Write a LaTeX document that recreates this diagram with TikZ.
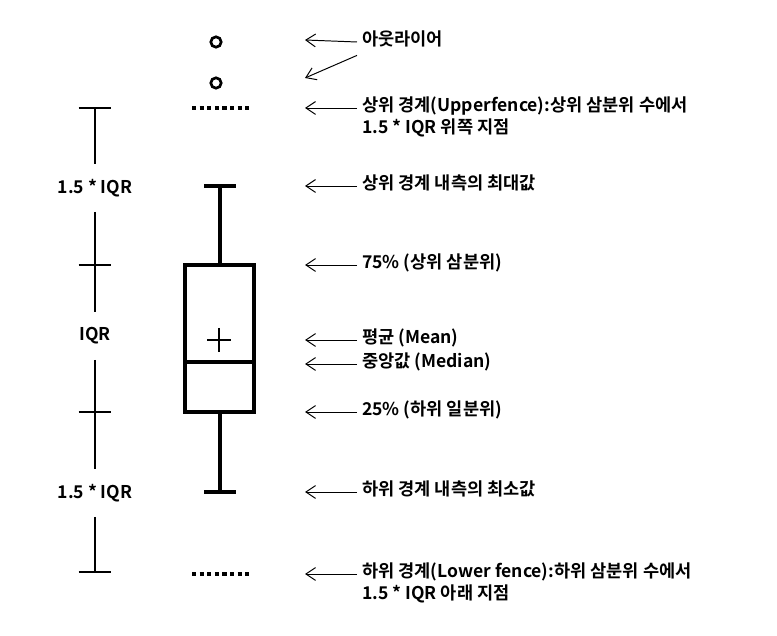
\documentclass[tikz,border=0pt]{standalone}
\usepackage{fontspec}
\setmainfont{Noto Sans CJK KR}[BoldFont={Noto Sans CJK KR Bold}]
\usetikzlibrary{arrows.meta,positioning}

\begin{document}
\begin{tikzpicture}[
    x=0.025cm, y=-0.025cm,
    every node/.style={font=\fontsize{12.5}{15}\selectfont\bfseries},
    note/.style={anchor=west, inner sep=3.5pt, text height=2.3mm, text depth=0.6mm},
    scaletxt/.style={inner sep=0pt, minimum height=1.18cm},
    scalebar/.style={line width=1.9pt},
    whisker/.style={line width=2.6pt},
    meanmark/.style={line width=1.8pt},
    fence/.style={line width=2.6pt, dash pattern=on 1.05mm off 0.85mm},
    outlier/.style={draw, circle, line width=1.9pt, minimum size=2.6mm, inner sep=0pt},
    pointer/.style={-{Straight Barb[length=2.4mm, width=3.2mm]}, line width=0.7pt}
]
\useasboundingbox (0,0) rectangle (777,636);

% left scale
\coordinate (sTop) at (95,108);
\node[scaletxt] (upIQR) at (95,188) {1.5 * IQR};
\coordinate (s75) at (95,265);
\node[scaletxt] (midIQR) at (95,336) {IQR};
\coordinate (s25) at (95,412);
\node[scaletxt] (lowIQR) at (95,493) {1.5 * IQR};
\coordinate (sBot) at (95,572);
\draw[scalebar] (sTop) -- (upIQR);
\draw[scalebar] (upIQR) -- (s75) -- (midIQR);
\draw[scalebar] (midIQR) -- (s25) -- (lowIQR);
\draw[scalebar] (lowIQR) -- (sBot);
\foreach \c in {sTop,s75,s25,sBot}
  \draw[scalebar] ([xshift=-4.1mm]\c) -- ([xshift=4.1mm]\c);

% box plot
\node[outlier] (out1) at (216,42) {};
\node[outlier] (out2) at (216,83) {};
\draw[fence] (192,108) -- (251,108);
\draw[whisker] (204,186) -- (236,186);
\draw[whisker] (220,186) -- (220,265);
\draw[whisker] (185,265) rectangle (254,412);
\draw[whisker] (185,362) -- (254,362);
\draw[meanmark] (207,340) -- (231,340) (219,328) -- (219,352);
\draw[whisker] (220,412) -- (220,492);
\draw[whisker] (204,492) -- (236,492);
\draw[fence] (192,574) -- (251,574);

% notes
\node[note] (nOut) at (357,42) {아웃라이어};
\node[note] (nUp) at (357,108) {상위 경계(Upperfence):상위 삼분위 수에서};
\node[note, below=0mm of nUp.south west, anchor=north west] (nUpB) {1.5 * IQR 위쪽 지점};
\node[note] (nMax) at (357,186) {상위 경계 내측의 최대값};
\node[note] (nQ3) at (357,265) {75\% (상위 삼분위)};
\node[note] (nMean) at (357,340) {평균 (Mean)};
\node[note] (nMed) at (357,364) {중앙값 (Median)};
\node[note] (nQ1) at (357,412) {25\% (하위 일분위)};
\node[note] (nMin) at (357,492) {하위 경계 내측의 최소값};
\node[note] (nLow) at (357,574) {하위 경계(Lower fence):하위 삼분위 수에서};
\node[note, below=0mm of nLow.south west, anchor=north west] (nLowB) {1.5 * IQR 아래 지점};

\coordinate (tOut1) at (305,40);
\coordinate (tOut2) at (305,78);
\foreach \n/\y in {nUp/108,nMax/186,nQ3/265,nMean/340,nMed/364,nQ1/412,nMin/492,nLow/574}
  \coordinate (t\n) at (305,\y);

\draw[pointer] (nOut.west) -- (tOut1);
\draw[pointer] ([yshift=-0.6mm]nOut.south west) -- (tOut2);
\foreach \n in {nUp,nMax,nQ3,nMean,nMed,nQ1,nMin,nLow}
  \draw[pointer] (\n.west) -- (t\n);
\end{tikzpicture}
\end{document}
